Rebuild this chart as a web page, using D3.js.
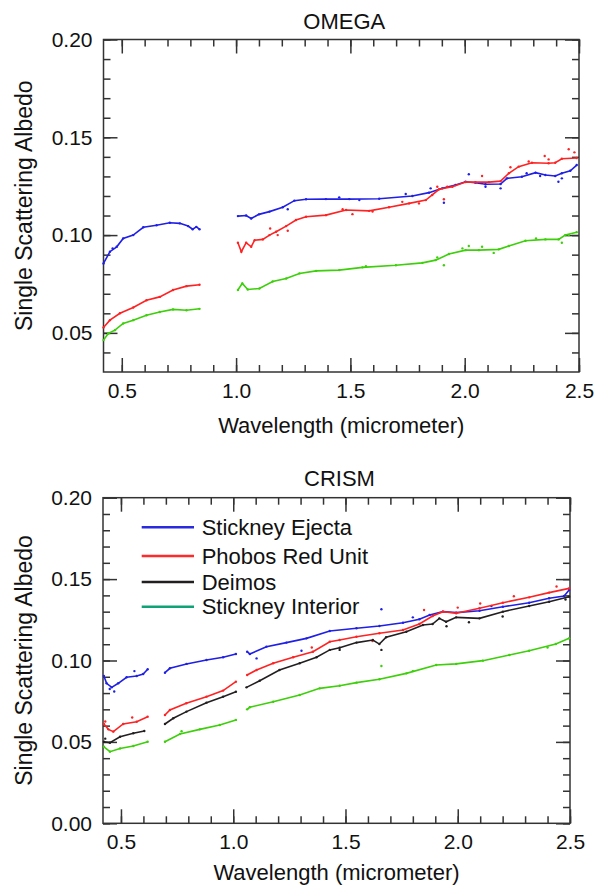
<!DOCTYPE html>
<html lang="en">
<head>
<meta charset="UTF-8">
<title>Single Scattering Albedo - OMEGA and CRISM</title>
<script src="https://d3js.org/d3.v7.min.js"></script>
<style>
    body, html { margin: 0; padding: 0; background: #fff; overflow: hidden; }
    text { font-family: "Liberation Sans", Arial, Helvetica, sans-serif; fill: #111; }
    .tick line { stroke: #333; stroke-width: 1.5px; }
    .frame { fill: none; stroke: #333; stroke-width: 1.5px; }
</style>
</head>
<body>
<svg id="chart" width="594" height="886"></svg>
<script>
    // ---- tick labels ----
    const xMajor = [0.5, 1.0, 1.5, 2.0, 2.5];
    const xTickLabels = ["0.5", "1.0", "1.5", "2.0", "2.5"];
    const omegaYMajor = [0.05, 0.10, 0.15, 0.20];
    const omegaYLabels = ["0.05", "0.10", "0.15", "0.20"];
    const crismYMajor = [0.00, 0.05, 0.10, 0.15, 0.20];
    const crismYLabels = ["0.00", "0.05", "0.10", "0.15", "0.20"];

    const legendNames = ["Stickney Ejecta", "Phobos Red Unit", "Deimos", "Stickney Interior"];
    const legendColors = ["#2a2adf", "#ff2a2a", "#231f20", "#0fa277"];

    // ---- OMEGA series: [wavelength, albedo], null = gap ----
    const omegaBlue = [[0.42,0.0855],[0.448,0.0915],[0.478,0.094],[0.506,0.0983],[0.55,0.100],[0.594,0.104],[0.652,0.105],[0.71,0.1063],[0.754,0.106],[0.79,0.1046],[0.81,0.103],[0.826,0.1042],[0.84,0.103],
        null,
        [1.008,0.1097],[1.044,0.110],[1.066,0.1085],[1.10,0.1106],[1.146,0.112],[1.204,0.1142],[1.255,0.1176],[1.306,0.1183],[1.393,0.1184],[1.495,0.1184],[1.626,0.1186],[1.771,0.120],[1.844,0.1217],[1.902,0.1239],[1.96,0.1256],[2.004,0.1273],[2.047,0.1268],[2.091,0.126],[2.157,0.1261],[2.185,0.129],[2.25,0.1298],[2.31,0.1319],[2.353,0.1307],[2.396,0.1302],[2.425,0.1316],[2.462,0.1329],[2.49,0.1358]];
    const omegaRed = [[0.42,0.0528],[0.448,0.0565],[0.492,0.060],[0.55,0.063],[0.608,0.0667],[0.666,0.0684],[0.724,0.0719],[0.783,0.0739],[0.84,0.0746],
        null,
        [1.008,0.0961],[1.023,0.0915],[1.044,0.0961],[1.066,0.094],[1.081,0.0974],[1.117,0.0978],[1.146,0.100],[1.175,0.1017],[1.219,0.1046],[1.262,0.1077],[1.306,0.1094],[1.393,0.1102],[1.481,0.1128],[1.582,0.1124],[1.669,0.1142],[1.757,0.1162],[1.83,0.1179],[1.858,0.1205],[1.888,0.1234],[1.946,0.1247],[2.004,0.1271],[2.047,0.1271],[2.106,0.1271],[2.157,0.1276],[2.193,0.1316],[2.236,0.135],[2.294,0.137],[2.367,0.1367],[2.396,0.137],[2.425,0.139],[2.49,0.1394]];
    const omegaGreen = [[0.42,0.0463],[0.441,0.0497],[0.47,0.0514],[0.506,0.0548],[0.55,0.0565],[0.608,0.059],[0.666,0.0607],[0.724,0.062],[0.783,0.0616],[0.84,0.0623],
        null,
        [1.008,0.0719],[1.027,0.0753],[1.051,0.0722],[1.102,0.0727],[1.16,0.0763],[1.219,0.0778],[1.277,0.0804],[1.35,0.0817],[1.451,0.0821],[1.553,0.0835],[1.699,0.0846],[1.815,0.0858],[1.873,0.0872],[1.931,0.0903],[2.004,0.0923],[2.062,0.0923],[2.149,0.0927],[2.193,0.0944],[2.266,0.0971],[2.353,0.0978],[2.411,0.0978],[2.44,0.100],[2.49,0.1015]];

    // OMEGA scattered raw points
    const omegaBlueDots = [[0.46,0.0932],[1.226,0.1132],[1.451,0.1193],[1.539,0.1179],[1.742,0.121],[1.851,0.1239],[1.909,0.1165],[2.018,0.1311],[2.091,0.1247],[2.157,0.1239],[2.271,0.1316],[2.33,0.1302],[2.41,0.1273],[2.425,0.129]];
    const omegaRedDots = [[1.149,0.1034],[1.182,0.100],[1.226,0.1022],[1.466,0.1132],[1.509,0.1107],[1.597,0.112],[1.727,0.117],[1.80,0.1162],[1.88,0.1247],[1.909,0.1183],[1.924,0.1247],[2.076,0.1302],[2.20,0.1347],[2.28,0.1376],[2.35,0.1404],[2.367,0.1387],[2.455,0.1439],[2.48,0.1423]];
    const omegaGreenDots = [[1.568,0.0841],[1.88,0.0886],[1.909,0.0846],[1.99,0.0932],[2.018,0.0944],[2.076,0.094],[2.127,0.0909],[2.312,0.0983],[2.425,0.0961],[2.455,0.100]];

    // ---- CRISM series ----
    const crismBlue = [[0.424,0.0905],[0.436,0.086],[0.459,0.0835],[0.488,0.086],[0.525,0.0897],[0.57,0.0905],[0.599,0.0917],[0.619,0.0946],
        null,
        [0.696,0.0925],[0.718,0.0952],[0.792,0.0979],[0.881,0.1003],[0.955,0.102],[1.012,0.104],
        null,
        [1.062,0.1054],[1.074,0.104],[1.148,0.1085],[1.237,0.111],[1.326,0.1136],[1.43,0.1181],[1.549,0.1198],[1.651,0.1212],[1.756,0.1232],[1.829,0.1253],[1.875,0.128],[1.934,0.130],[1.993,0.1294],[2.097,0.1306],[2.201,0.133],[2.318,0.1355],[2.407,0.1382],[2.474,0.1396],[2.496,0.1433]];
    const crismRed = [[0.424,0.061],[0.444,0.0577],[0.466,0.0563],[0.51,0.061],[0.57,0.0624],[0.619,0.0655],
        null,
        [0.696,0.0665],[0.718,0.0696],[0.791,0.0737],[0.881,0.0778],[0.955,0.0815],[1.012,0.087],
        null,
        [1.062,0.0911],[1.104,0.0942],[1.178,0.0983],[1.267,0.102],[1.355,0.1054],[1.43,0.1115],[1.474,0.1126],[1.549,0.1146],[1.651,0.1167],[1.756,0.1187],[1.829,0.1224],[1.888,0.1273],[1.934,0.130],[1.993,0.129],[2.097,0.1321],[2.201,0.1355],[2.318,0.1388],[2.407,0.1417],[2.496,0.1443]];
    const crismBlack = [[0.424,0.0501],[0.451,0.0495],[0.496,0.0532],[0.555,0.0553],[0.604,0.0567],
        null,
        [0.696,0.061],[0.733,0.0645],[0.792,0.0686],[0.881,0.0741],[0.955,0.0778],[1.012,0.0808],
        null,
        [1.059,0.0835],[1.118,0.0876],[1.206,0.0942],[1.296,0.0983],[1.371,0.102],[1.43,0.1065],[1.474,0.1078],[1.549,0.111],[1.622,0.1126],[1.651,0.1101],[1.681,0.1143],[1.771,0.1177],[1.845,0.1218],[1.888,0.1224],[1.918,0.1259],[1.948,0.1238],[1.993,0.1265],[2.097,0.1259],[2.201,0.130],[2.318,0.1335],[2.407,0.1361],[2.496,0.1392]];
    const crismGreen = [[0.424,0.047],[0.451,0.044],[0.496,0.046],[0.555,0.0475],[0.619,0.0501],
        null,
        [0.696,0.0501],[0.763,0.0549],[0.851,0.0577],[0.94,0.0604],[1.012,0.0635],
        null,
        [1.062,0.070],[1.074,0.0713],[1.178,0.0747],[1.296,0.0788],[1.385,0.0829],[1.474,0.0845],[1.549,0.0864],[1.651,0.0885],[1.771,0.0921],[1.904,0.0972],[1.993,0.0979],[2.112,0.0999],[2.23,0.1034],[2.318,0.106],[2.437,0.1101],[2.496,0.1136]];

    const crismBlueDots = [[0.45,0.0825],[0.47,0.081],[0.56,0.0935],[1.104,0.1013],[1.304,0.106],[1.66,0.1315],[1.80,0.1265],[2.15,0.1335]];
    const crismRedDots = [[0.43,0.0625],[0.55,0.065],[1.35,0.108],[1.62,0.112],[1.85,0.131],[2.00,0.1325],[2.10,0.135],[2.25,0.1395],[2.44,0.1455]];
    const crismBlackDots = [[0.43,0.052],[1.474,0.1065],[1.66,0.1065],[1.95,0.121],[2.05,0.1235],[2.20,0.127],[2.48,0.1375]];
    const crismGreenDots = [[0.77,0.0565],[1.66,0.0966],[1.80,0.0935],[2.40,0.108]];

    const lineColors = { blue: "#1f1fe6", red: "#ff2222", black: "#231f20", green: "#3ccf0a" };

    const panels = [
        {
            title: "OMEGA", left: 103.5, top: 39.5, right: 579, bottom: 372,
            yDomain: [0.03, 0.20], yMajor: omegaYMajor, yLabels: omegaYLabels,
            yMinor: d3.range(4, 21).map(v => v / 100),
            series: [
                { data: omegaBlue, dots: omegaBlueDots, color: lineColors.blue },
                { data: omegaRed, dots: omegaRedDots, color: lineColors.red },
                { data: omegaGreen, dots: omegaGreenDots, color: lineColors.green }
            ],
            titleY: 29, xLabelY: 433, legend: false
        },
        {
            title: "CRISM", left: 103, top: 497.7, right: 570, bottom: 823.3,
            yDomain: [0, 0.20], yMajor: crismYMajor, yLabels: crismYLabels,
            yMinor: d3.range(0, 21).map(v => v / 100),
            series: [
                { data: crismBlue, dots: crismBlueDots, color: lineColors.blue },
                { data: crismRed, dots: crismRedDots, color: lineColors.red },
                { data: crismBlack, dots: crismBlackDots, color: lineColors.black },
                { data: crismGreen, dots: crismGreenDots, color: lineColors.green }
            ],
            titleY: 486, xLabelY: 880, legend: true
        }
    ];

    const svg = d3.select("#chart");
    const xMinor = d3.range(5, 26).map(v => v / 10);

    panels.forEach(p => {
        const w = p.right - p.left, h = p.bottom - p.top;
        const g = svg.append("g").attr("transform", `translate(${p.left},${p.top})`);

        const x = d3.scaleLinear().domain([0.42, 2.5]).range([0, w]);
        const y = d3.scaleLinear().domain(p.yDomain).range([h, 0]);

        // minor ticks all sides
        g.append("g").attr("transform", `translate(0,${h})`)
            .call(d3.axisBottom(x).tickValues(xMinor).tickSizeInner(-7).tickSizeOuter(0).tickFormat(""));
        g.append("g")
            .call(d3.axisTop(x).tickValues(xMinor).tickSizeInner(-7).tickSizeOuter(0).tickFormat(""));
        g.append("g")
            .call(d3.axisLeft(y).tickValues(p.yMinor).tickSizeInner(-7).tickSizeOuter(0).tickFormat(""));
        g.append("g").attr("transform", `translate(${w},0)`)
            .call(d3.axisRight(y).tickValues(p.yMinor).tickSizeInner(-7).tickSizeOuter(0).tickFormat(""));

        // major ticks + labels
        g.append("g").attr("transform", `translate(0,${h})`)
            .call(d3.axisBottom(x).tickValues(xMajor).tickSizeInner(-14).tickSizeOuter(0).tickPadding(11)
                .tickFormat((d, i) => xTickLabels[i]))
            .call(a => a.selectAll("text").attr("font-size", 21));
        g.append("g")
            .call(d3.axisTop(x).tickValues(xMajor).tickSizeInner(-14).tickSizeOuter(0).tickFormat(""));
        g.append("g")
            .call(d3.axisLeft(y).tickValues(p.yMajor).tickSizeInner(-14).tickSizeOuter(0).tickPadding(11)
                .tickFormat((d, i) => p.yLabels[i]))
            .call(a => a.selectAll("text").attr("font-size", 21));
        g.append("g").attr("transform", `translate(${w},0)`)
            .call(d3.axisRight(y).tickValues(p.yMajor).tickSizeInner(-14).tickSizeOuter(0).tickFormat(""));

        g.selectAll(".domain").remove();
        g.append("rect").attr("class", "frame").attr("width", w).attr("height", h);

        // data
        const line = d3.line().defined(d => d !== null).x(d => x(d[0])).y(d => y(d[1]));
        p.series.forEach(s => {
            g.append("path").datum(s.data)
                .attr("fill", "none").attr("stroke", s.color).attr("stroke-width", 1.6)
                .attr("d", line);
            g.append("g").selectAll("circle")
                .data(s.data.filter(d => d !== null).concat(s.dots))
                .join("circle")
                .attr("cx", d => x(d[0])).attr("cy", d => y(d[1]))
                .attr("r", 1.2).attr("fill", s.color);
        });

        // labels
        svg.append("text").attr("x", p.left + w / 2 + 3).attr("y", p.titleY)
            .attr("text-anchor", "middle").attr("font-size", 22).text(p.title);
        svg.append("text").attr("x", p.left + w / 2).attr("y", p.xLabelY)
            .attr("text-anchor", "middle").attr("font-size", 22).text("Wavelength (micrometer)");
        svg.append("text")
            .attr("transform", `translate(32,${p.top + h / 2}) rotate(-90)`)
            .attr("text-anchor", "middle").attr("font-size", 23).text("Single Scattering Albedo");

        if (p.legend) {
            const lg = g.append("g").attr("transform", "translate(38.7,29.6)");
            const items = lg.selectAll("g").data(legendNames).join("g")
                .attr("transform", (d, i) => `translate(0,${[0, 28.7, 54.7, 79.4][i]})`);
            items.append("line").attr("x1", 0).attr("x2", 52.3)
                .attr("stroke", (d, i) => legendColors[i]).attr("stroke-width", 2.6);
            items.append("text").attr("x", 60).attr("dy", "0.35em")
                .attr("font-size", 22).text(d => d);
        }
    });
</script>
</body>
</html>
